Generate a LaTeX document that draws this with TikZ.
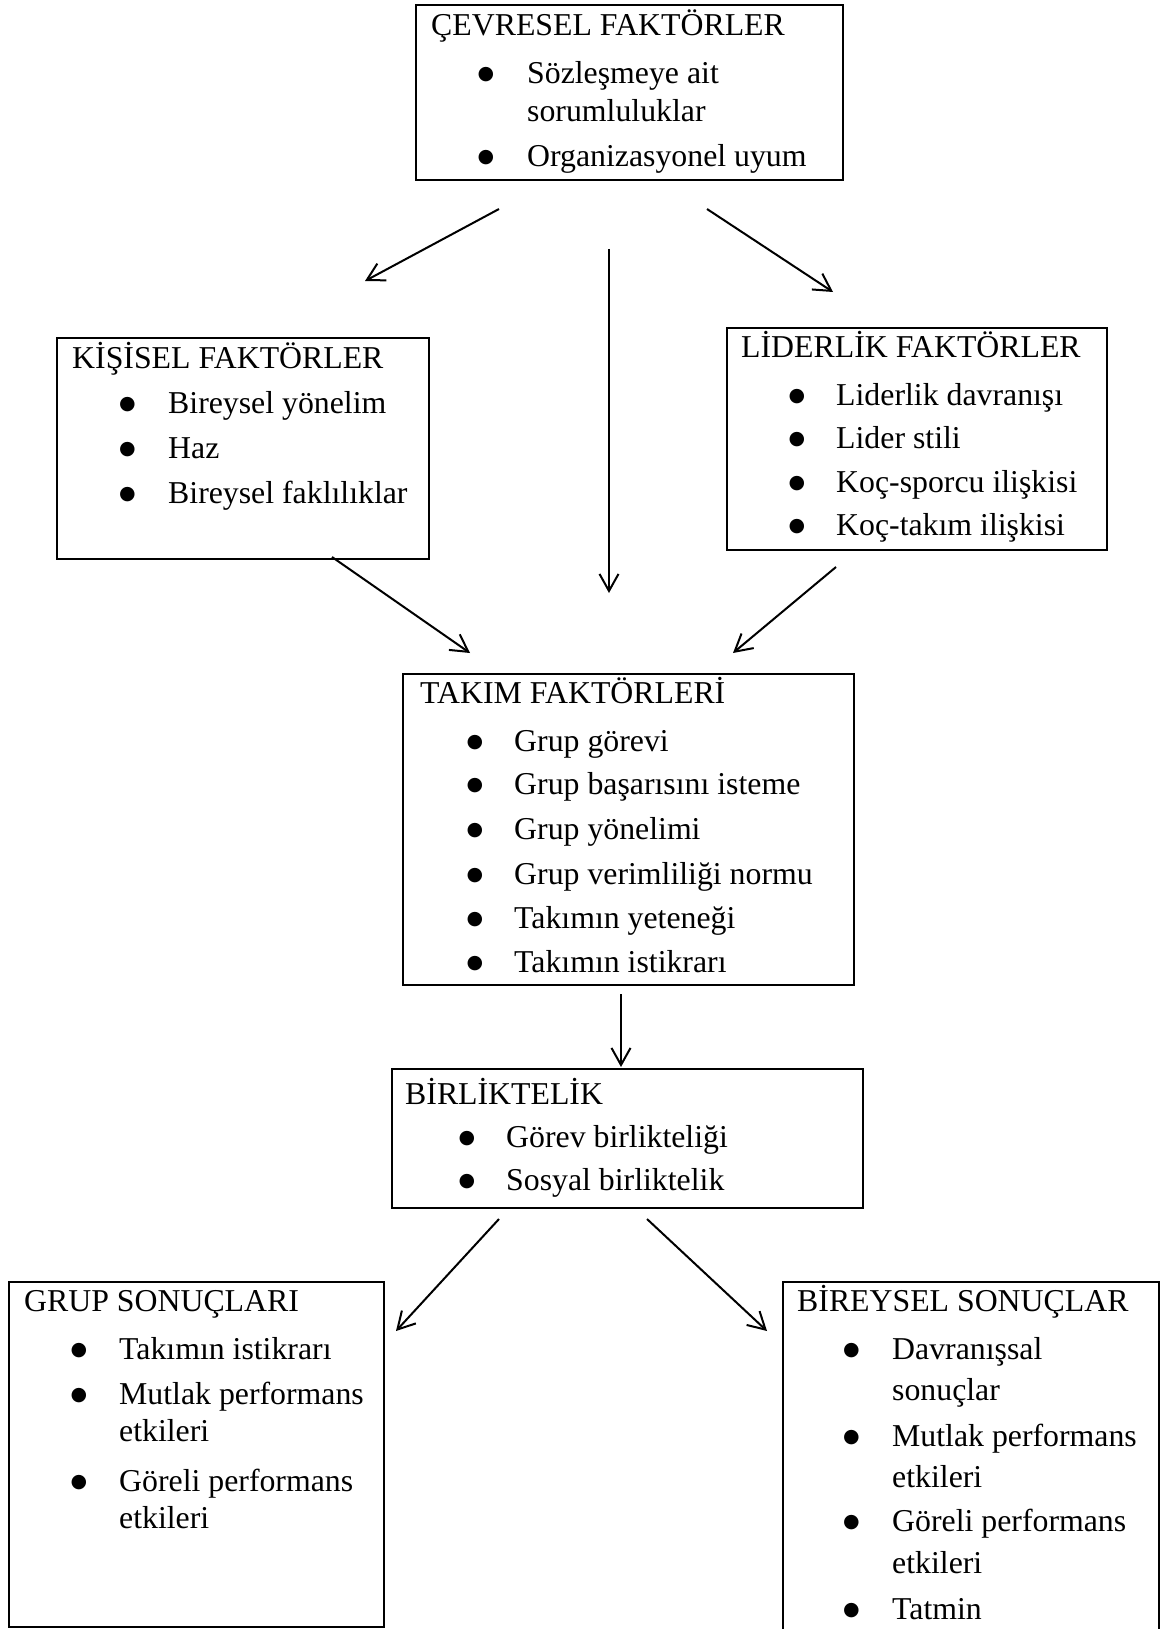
\documentclass[tikz,border=0pt]{standalone}
\usepackage{fontspec}
\setmainfont{Liberation Serif}
\newfontfamily\bulfont{DejaVu Sans}
\usetikzlibrary{arrows.meta}
\begin{document}
\begin{tikzpicture}[x=1pt,y=-1pt,
  box/.style={draw, line width=2pt, inner sep=0pt, outer sep=0pt},
  txt/.style={inner sep=0pt, anchor=base west, font=\fontsize{31.8pt}{36.6pt}\selectfont},
  bul/.style={inner sep=0pt, anchor=base, font=\bulfont\fontsize{19pt}{19pt}\selectfont},
  arr/.style={line width=2pt, -{Straight Barb[length=17pt, width=19pt, line width=2pt]}}]
\useasboundingbox (0,0) rectangle (1161,1629);
\clip (0,0) rectangle (1161,1629);
\fill[white] (0,0) rectangle (1161,1629);

% boxes
\node[box, minimum width=427pt, minimum height=175pt] (cevre) at (629.5,92.5) {};
\node[box, minimum width=372pt, minimum height=221pt] (kisi) at (243,448.5) {};
\node[box, minimum width=380pt, minimum height=222pt] (lider) at (917,439) {};
\node[box, minimum width=451pt, minimum height=311pt] (takim) at (628.5,829.5) {};
\node[box, minimum width=471pt, minimum height=139pt] (birlik) at (627.5,1138.5) {};
\node[box, minimum width=375pt, minimum height=345pt] (grup) at (196.5,1454.5) {};
\node[box, minimum width=376pt, minimum height=398pt] (birey) at (971,1481) {};

% CEVRESEL
\node[txt] (c0) at (431,36) {ÇEVRESEL FAKTÖRLER};
\node[bul] (cb1) at (486,80) {●};
\node[txt] (c1) at (527,84) {Sözleşmeye ait};
\node[txt] (c1b) at (527,121.5) {sorumluluklar};
\node[bul] (cb2) at (486,163) {●};
\node[txt] (c2) at (527,167) {Organizasyonel uyum};

% KISISEL
\node[txt] (k0) at (72,368) {KİŞİSEL FAKTÖRLER};
\node[bul] (kb1) at (127.5,409) {●};
\node[txt] (k1) at (168,413) {Bireysel yönelim};
\node[bul] (kb2) at (127.5,454) {●};
\node[txt] (k2) at (168,458) {Haz};
\node[bul] (kb3) at (127.5,499) {●};
\node[txt] (k3) at (168,503) {Bireysel faklılıklar};

% LIDERLIK
\node[txt] (l0) at (741,357) {LİDERLİK FAKTÖRLER};
\node[bul] (lb1) at (797,401) {●};
\node[txt] (l1) at (836,405) {Liderlik davranışı};
\node[bul] (lb2) at (797,444) {●};
\node[txt] (l2) at (836,448) {Lider stili};
\node[bul] (lb3) at (797,488) {●};
\node[txt] (l3) at (836,492) {Koç-sporcu ilişkisi};
\node[bul] (lb4) at (797,531) {●};
\node[txt] (l4) at (836,535) {Koç-takım ilişkisi};

% TAKIM
\node[txt] (t0) at (420,703) {TAKIM FAKTÖRLERİ};
\node[bul] (tb1) at (475,747) {●};
\node[txt] (t1) at (514,751) {Grup görevi};
\node[bul] (tb2) at (475,790.5) {●};
\node[txt] (t2) at (514,794.5) {Grup başarısını isteme};
\node[bul] (tb3) at (475,835.5) {●};
\node[txt] (t3) at (514,839.5) {Grup yönelimi};
\node[bul] (tb4) at (475,880.5) {●};
\node[txt] (t4) at (514,884.5) {Grup verimliliği normu};
\node[bul] (tb5) at (475,924) {●};
\node[txt] (t5) at (514,928) {Takımın yeteneği};
\node[bul] (tb6) at (475,968) {●};
\node[txt] (t6) at (514,972) {Takımın istikrarı};

% BIRLIKTELIK
\node[txt] (b0) at (405,1104) {BİRLİKTELİK};
\node[bul] (bb1) at (467,1143.5) {●};
\node[txt] (b1) at (506,1147.5) {Görev birlikteliği};
\node[bul] (bb2) at (467,1186) {●};
\node[txt] (b2) at (506,1190) {Sosyal birliktelik};

% GRUP SONUCLARI
\node[txt] (g0) at (24,1311.5) {GRUP SONUÇLARI};
\node[bul] (gb1) at (79,1355.5) {●};
\node[txt] (g1) at (119,1359.5) {Takımın istikrarı};
\node[bul] (gb2) at (79,1400.5) {●};
\node[txt] (g2) at (119,1404.5) {Mutlak performans};
\node[txt] (g2b) at (119,1441.5) {etkileri};
\node[bul] (gb3) at (79,1487) {●};
\node[txt] (g3) at (119,1491) {Göreli performans};
\node[txt] (g3b) at (119,1528.5) {etkileri};

% BIREYSEL SONUCLAR
\node[txt] (r0) at (797,1311.5) {BİREYSEL SONUÇLAR};
\node[bul] (rb1) at (851.5,1355.5) {●};
\node[txt] (r1) at (892,1359.5) {Davranışsal};
\node[txt] (r1b) at (892,1400) {sonuçlar};
\node[bul] (rb2) at (851.5,1442) {●};
\node[txt] (r2) at (892,1446) {Mutlak performans};
\node[txt] (r2b) at (892,1487) {etkileri};
\node[bul] (rb3) at (851.5,1527) {●};
\node[txt] (r3) at (892,1531) {Göreli performans};
\node[txt] (r3b) at (892,1573) {etkileri};
\node[bul] (rb4) at (851.5,1615.5) {●};
\node[txt] (r4) at (892,1619.5) {Tatmin};

% connector end points
\coordinate (a1s) at (499,209);  \coordinate (a1e) at (365,281);
\coordinate (a2s) at (609,249);  \coordinate (a2e) at (609,593);
\coordinate (a3s) at (707,209);  \coordinate (a3e) at (833,292);
\coordinate (a4s) at (332,557);  \coordinate (a4e) at (470,653);
\coordinate (a5s) at (836,567);  \coordinate (a5e) at (733,653);
\coordinate (a6s) at (621,994);  \coordinate (a6e) at (621,1067);
\coordinate (a7s) at (499,1219); \coordinate (a7e) at (396,1331);
\coordinate (a8s) at (647,1219); \coordinate (a8e) at (767,1331);

\draw[arr] (a1s) -- (a1e);
\draw[arr] (a2s) -- (a2e);
\draw[arr] (a3s) -- (a3e);
\draw[arr] (a4s) -- (a4e);
\draw[arr] (a5s) -- (a5e);
\draw[arr] (a6s) -- (a6e);
\draw[arr] (a7s) -- (a7e);
\draw[arr] (a8s) -- (a8e);
\end{tikzpicture}
\end{document}
